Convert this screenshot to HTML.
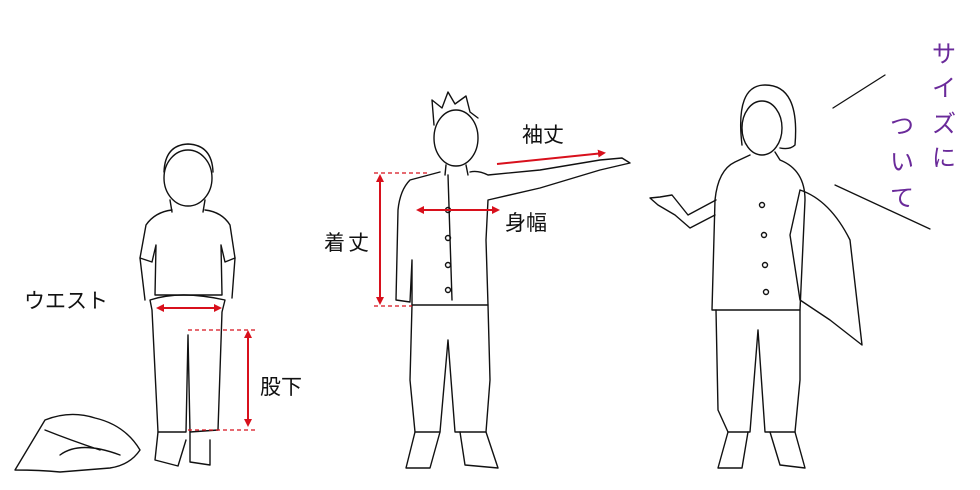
<!DOCTYPE html>
<html><head><meta charset="utf-8"><style>
html,body{margin:0;padding:0;background:#fff;}
svg{display:block}
text{font-family:"Liberation Sans","Noto Sans CJK JP",sans-serif;}
</style></head><body>
<svg width="980" height="490" viewBox="0 0 980 490" xmlns="http://www.w3.org/2000/svg">
<defs>
<marker id="a" markerWidth="8" markerHeight="8" refX="6" refY="4" orient="auto-start-reverse" markerUnits="userSpaceOnUse"><path d="M0,0 L8,4 L0,8 z" fill="#d8101c"/></marker>
</defs>
<g fill="none" stroke="#111" stroke-width="1.4" stroke-linejoin="round" stroke-linecap="round">
<!-- child -->
<ellipse cx="188" cy="178" rx="24" ry="28"/>
<path d="M164,172 Q165,145 188,144 Q212,145 213,172"/>
<path d="M170,200 L172,212 M205,200 L203,212"/>
<path d="M172,210 Q155,212 146,225 L140,258 L152,262 L156,245 L155,295 L222,295 L221,245 L225,262 L235,258 L230,225 Q222,212 205,210"/>
<path d="M140,258 L145,300 M235,258 L232,298"/>
<path d="M150,300 Q180,290 225,300 L222,312 L218,430 L190,432 L188,335 L186,432 L158,432 L152,310 z"/>
<path d="M158,432 L155,460 L178,466 L186,440 M190,432 L190,462 L210,465 L210,440"/>
<!-- clothes on floor -->
<path d="M15,470 Q30,445 45,420 Q70,410 95,418 Q125,425 140,450 Q130,465 110,468 L60,472 Q40,470 15,470 z"/>
<path d="M45,430 Q70,440 100,450 M60,455 Q80,440 120,455"/>
<!-- middle man -->
<ellipse cx="456" cy="138" rx="22" ry="28"/>
<path d="M434,125 L432,100 L442,108 L448,92 L455,104 L466,96 L470,112 L478,118"/>
<path d="M446,165 L445,175 M466,165 L468,175"/>
<path d="M440,172 L410,180 Q400,190 398,210 L396,300 L410,302 L412,260 L412,305 L488,305 L486,240 L488,200 L540,188 L600,170 L630,163 L622,158 L600,160 L540,170 L488,175 Q478,170 470,172"/>
<path d="M412,305 L410,380 L415,432 L440,432 L448,340 L455,432 L486,432 L490,380 L488,305"/>
<path d="M415,432 L406,468 L430,468 L440,432 M460,432 L465,465 L498,468 L486,432"/>
<path d="M448,175 L452,300" />
<circle cx="448" cy="210" r="2.5"/><circle cx="448" cy="238" r="2.5"/><circle cx="448" cy="265" r="2.5"/><circle cx="448" cy="290" r="2.5"/>
<!-- woman -->
<path d="M742,145 Q735,85 765,85 Q800,85 795,145 Q790,150 780,148"/>
<ellipse cx="762" cy="128" rx="20" ry="27"/>
<path d="M750,155 L735,162 Q718,170 715,200 L712,310 L800,310 L805,200 Q805,170 780,160 L775,152"/>
<path d="M715,215 L690,228 L675,215 L658,205 L650,198 L660,197 L672,195 L688,215 L716,200"/>
<path d="M800,190 Q830,200 850,240 L862,345 L830,320 L800,300 L790,235 z"/>
<path d="M716,310 L718,410 L728,432 L750,432 L758,330 L765,432 L795,432 L800,380 L800,310"/>
<path d="M728,432 L718,468 L742,468 L748,432 M770,432 L780,465 L805,468 L795,432"/>
<circle cx="762" cy="205" r="2.5"/><circle cx="764" cy="235" r="2.5"/><circle cx="765" cy="265" r="2.5"/><circle cx="766" cy="292" r="2.5"/>
<!-- lines -->
<path d="M833,108 L885,75 M835,185 L930,229" stroke-width="1.3"/>
</g>
<g stroke="#d8101c" stroke-width="2" fill="none">
<line x1="158" y1="308" x2="220" y2="308" marker-start="url(#a)" marker-end="url(#a)"/>
<line x1="248" y1="332" x2="248" y2="425" marker-start="url(#a)" marker-end="url(#a)"/>
<line x1="380" y1="176" x2="380" y2="303" marker-start="url(#a)" marker-end="url(#a)"/>
<line x1="418" y1="210" x2="498" y2="210" marker-start="url(#a)" marker-end="url(#a)"/>
<line x1="497" y1="164" x2="604" y2="153" marker-end="url(#a)"/>
<g stroke-dasharray="4,3" stroke-width="1.3">
<line x1="188" y1="330" x2="256" y2="330"/>
<line x1="188" y1="430" x2="256" y2="430"/>
<line x1="374" y1="173" x2="428" y2="173"/>
<line x1="374" y1="306" x2="412" y2="306"/>
</g>
</g>
<g font-size="21" fill="#111">
<text x="24" y="308">ウエスト</text>
<text x="260" y="394">股下</text>
<text x="324" y="250">着</text><text x="348" y="250">丈</text>
<text x="505" y="230">身幅</text>
<text x="522" y="142">袖丈</text>
</g>
<g font-size="24" fill="#6a2a9a" text-anchor="middle">
<text x="944" y="62">サ</text><text x="944" y="96">イ</text><text x="944" y="132">ズ</text><text x="944" y="166">に</text>
<text x="902" y="134">つ</text><text x="902" y="170">い</text><text x="902" y="206">て</text>
</g>
</svg>
</body></html>
